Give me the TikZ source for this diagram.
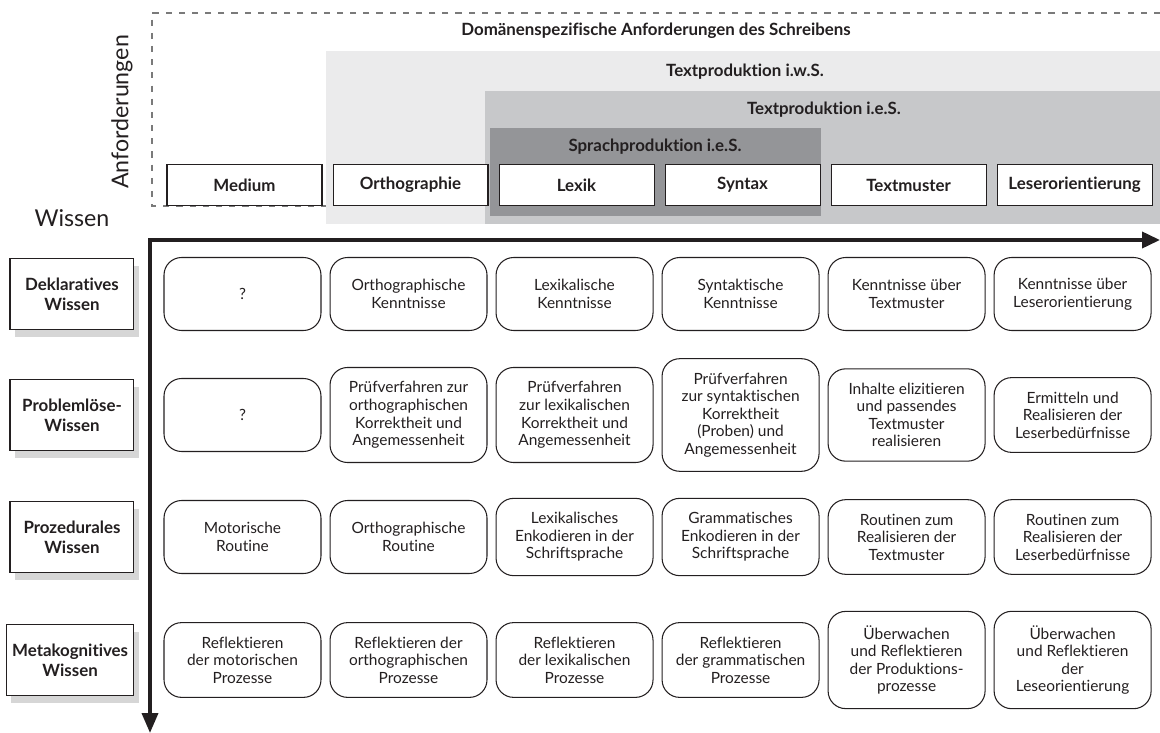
\documentclass[tikz,border=0pt]{standalone}
\usepackage{fontspec}
\setmainfont{Lato}[Ligatures=NoCommon]
\usetikzlibrary{arrows.meta,positioning,shadows}
\definecolor{hellgrau}{HTML}{EBEBEC}
\definecolor{mittelgrau}{HTML}{C7C8CA}
\definecolor{dunkelgrau}{HTML}{949598}
\definecolor{schatten}{HTML}{D6D6D6}
\definecolor{strich}{HTML}{7A7A7A}
\definecolor{tinte}{HTML}{231F20}
\tikzset{
    zelle/.style={
           rectangle,
           rounded corners=10pt,
           draw=tinte,
           line width=0.6pt,
           minimum width=3.14cm,
           minimum height=1.46cm,
           inner ysep=8pt,
           align=center,
           text=tinte,
           font=\fontsize{8.8}{10}\selectfont,
           },
}

\begin{document}
\begin{tikzpicture}[
  x=0.02cm, y=-0.02cm,
  node distance=0.16cm,
  kopf/.style={draw=tinte, fill=white, line width=0.6pt, minimum width=3.1cm,
    minimum height=0.82cm, text=tinte, font=\bfseries\fontsize{9.6}{11}\selectfont},
  ebene/.style={text=tinte, font=\bfseries\fontsize{9.6}{11}\selectfont},
  wissen/.style={draw=tinte, fill=white, line width=0.6pt, minimum width=2.48cm,
    minimum height=1.42cm, align=center, text=tinte,
    font=\bfseries\fontsize{9.6}{11.5}\selectfont,
    drop shadow={shadow xshift=2.8pt, shadow yshift=-4pt, fill=schatten, opacity=1}},
  achse/.style={line width=2.1pt, draw=tinte,
    {Triangle[length=0.4cm,width=0.32cm]}-{Triangle[length=0.36cm,width=0.32cm]}}]
\useasboundingbox (0,0) rectangle (1160,733);

% Anforderungen: Bereiche
\draw[strich, line width=0.6pt, dash pattern=on 3.5pt off 4pt]
  (1160,13) -- (152,13) -- (152,206) -- (326,206);
\fill[hellgrau] (326,51) rectangle (1160,224);
\fill[mittelgrau] (485,91) rectangle (1160,224);
\fill[dunkelgrau] (490,128) rectangle (821,216);
\node[ebene] (domaene) at (656,31) {Domänenspezifische Anforderungen des Schreibens};
\node[ebene] (tpiws) at (745,72) {Textproduktion i.w.S.};
\node[ebene] (tpies) at (824,110) {Textproduktion i.e.S.};
\node[ebene] (spies) at (655,147) {Sprachproduktion i.e.S.};
\node[rotate=90, text=tinte, font=\fontsize{13.2}{15}\selectfont] (anford) at (122,112) {Anforderungen};
\node[text=tinte, font=\fontsize{13.2}{15}\selectfont] (wissenlabel) at (72,218) {Wissen};

% Kopfzeile
\node[kopf] (medium) at (244.5,185) {Medium};
\node[kopf,right=0.2cm of medium] (ortho) {Orthographie};
\node[kopf,right=0.2cm of ortho] (lexik) {Lexik};
\node[kopf,right=0.2cm of lexik] (syntax) {Syntax};
\node[kopf,right=0.2cm of syntax] (textmuster) {Textmuster};
\node[kopf,right=0.2cm of textmuster] (leser) {Leserorientierung};

% Achsen
\coordinate (ursprung) at (150,240);
\coordinate (xende) at (1160,240);
\coordinate (yende) at (150,733);
\draw[achse] (yende) -- (ursprung) -- (xende);

% Deklaratives Wissen
\node[zelle] (dek1) at (242.5,294) {?};
\node[zelle,right=of dek1] (dek2) {Orthographische\\Kenntnisse};
\node[zelle,right=of dek2] (dek3) {Lexikalische\\Kenntnisse};
\node[zelle,right=of dek3] (dek4) {Syntaktische\\Kenntnisse};
\node[zelle,right=of dek4] (dek5) {Kenntnisse über\\Textmuster};
\node[zelle,right=of dek5] (dek6) {Kenntnisse über\\Leserorientierung};
\node[wissen,left=0.58cm of dek1] (dekwissen) {Deklaratives\\Wissen};

% Problemloese-Wissen
\node[zelle] (pro1) at (242.5,415) {?};
\node[zelle,right=of pro1] (pro2) {Prüfverfahren zur\\orthographischen\\Korrektheit und\\Angemessenheit};
\node[zelle,right=of pro2] (pro3) {Prüfverfahren\\zur lexikalischen\\Korrektheit und\\Angemessenheit};
\node[zelle,right=of pro3] (pro4) {Prüfverfahren\\zur syntaktischen\\Korrektheit\\(Proben) und\\Angemessenheit};
\node[zelle,right=of pro4] (pro5) {Inhalte elizitieren\\und passendes\\Textmuster\\realisieren};
\node[zelle,right=of pro5] (pro6) {Ermitteln und\\Realisieren der\\Leserbedürfnisse};
\node[wissen,left=0.58cm of pro1] (prowissen) {Problemlöse-\\Wissen};

% Prozedurales Wissen
\node[zelle] (proz1) at (242.5,537) {Motorische\\Routine};
\node[zelle,right=of proz1] (proz2) {Orthographische\\Routine};
\node[zelle,right=of proz2] (proz3) {Lexikalisches\\Enkodieren in der\\Schriftsprache};
\node[zelle,right=of proz3] (proz4) {Grammatisches\\Enkodieren in der\\Schriftsprache};
\node[zelle,right=of proz4] (proz5) {Routinen zum\\Realisieren der\\Textmuster};
\node[zelle,right=of proz5] (proz6) {Routinen zum\\Realisieren der\\Leserbedürfnisse};
\node[wissen,left=0.58cm of proz1] (prozwissen) {Prozedurales\\Wissen};

% Metakognitives Wissen
\node[zelle] (meta1) at (242.5,660) {Reflektieren\\der motorischen\\Prozesse};
\node[zelle,right=of meta1] (meta2) {Reflektieren der\\orthographischen\\Prozesse};
\node[zelle,right=of meta2] (meta3) {Reflektieren\\der lexikalischen\\Prozesse};
\node[zelle,right=of meta3] (meta4) {Reflektieren\\der grammatischen\\Prozesse};
\node[zelle,right=of meta4] (meta5) {Überwachen\\und Reflektieren\\der Produktions-\\prozesse};
\node[zelle,right=of meta5] (meta6) {Überwachen\\und Reflektieren\\der\\Leseorientierung};
\node[wissen,left=0.58cm of meta1] (metawissen) {Metakognitives\\Wissen};
\end{tikzpicture}
\end{document}
